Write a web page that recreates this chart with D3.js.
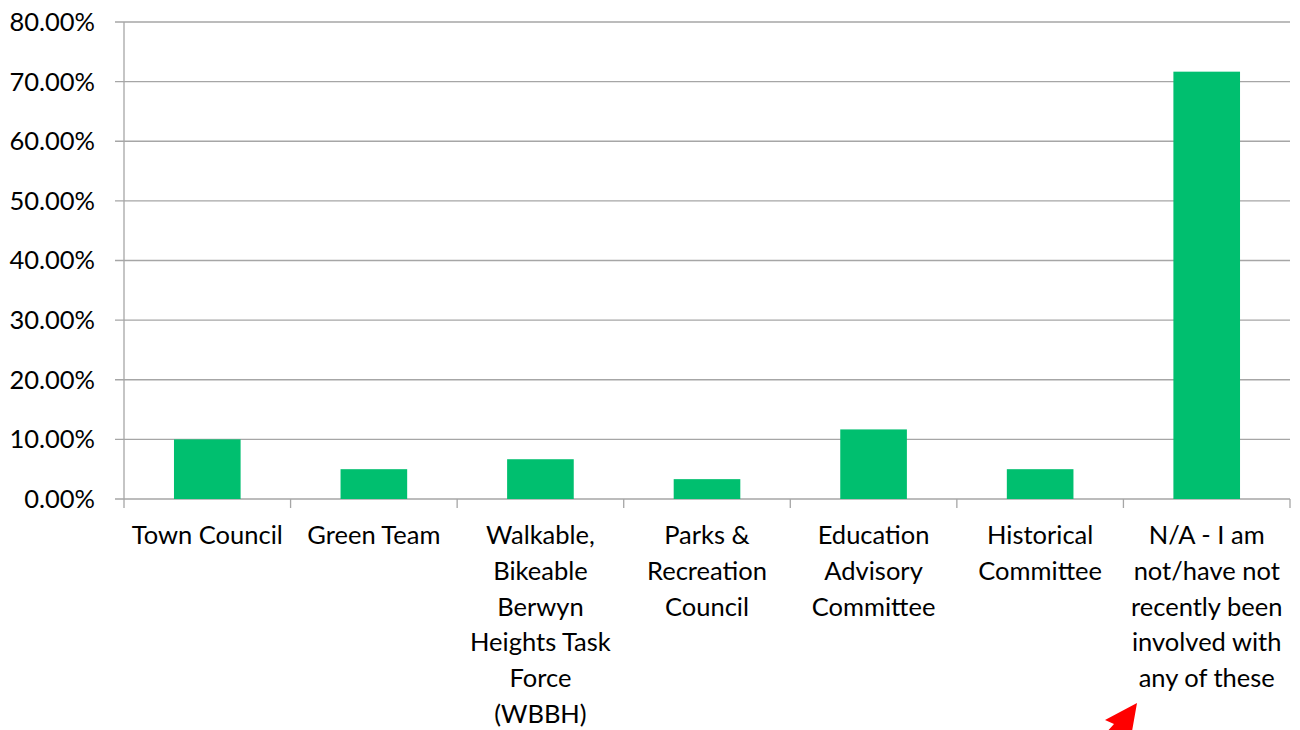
<!DOCTYPE html>
<html><head><meta charset="utf-8">
<script src="https://cdn.jsdelivr.net/npm/d3@7"></script>
<style>body{margin:0;background:#fff}svg{display:block}text{font-family:Lato,"Open Sans",sans-serif}</style>
</head><body><svg id="c" width="1300" height="730"></svg>
<script>
const categories = ["Town Council","Green Team","Walkable, Bikeable Berwyn Heights Task Force (WBBH)","Parks & Recreation Council","Education Advisory Committee","Historical Committee","N/A - I am not/have not recently been involved with any of these"];
const labelLines = [["Town Council"],["Green Team"],["Walkable,","Bikeable","Berwyn","Heights Task","Force","(WBBH)"],["Parks &","Recreation","Council"],["Education","Advisory","Committee"],["Historical","Committee"],["N/A - I am","not/have not","recently been","involved with","any of these"]];
const values = [0.1000,0.0500,0.0667,0.0333,0.1167,0.0500,0.7167];
const yTicks = [0,0.1,0.2,0.3,0.4,0.5,0.6,0.7,0.8];

const svg = d3.select("#c");
const L=124,R=1290,T=22,B=499;
const x = d3.scaleBand().domain(categories).range([L,R]).paddingInner(0.6).paddingOuter(0.3);
const xb = d3.scaleBand().domain(categories).range([L,R]);
const y = d3.scaleLinear().domain([0,0.8]).range([B,T]);
const fmt = d3.format(".2%");
const FS = 25.5;

svg.append("g").selectAll("line").data(yTicks).join("line")
  .attr("x1",L-9).attr("x2",R).attr("y1",d=>y(d)).attr("y2",d=>y(d))
  .attr("stroke","#a6a6a6").attr("stroke-width",1.3);
svg.append("g").selectAll("text").data(yTicks).join("text")
  .attr("x",95).attr("y",d=>y(d)).attr("dy","0.35em").attr("text-anchor","end")
  .attr("font-size",FS).attr("fill","#000").text(d=>fmt(d));
svg.append("line").attr("x1",L).attr("x2",L).attr("y1",T).attr("y2",B).attr("stroke","#a6a6a6").attr("stroke-width",1.3);
const tickX = categories.map(c=>xb(c)).concat([R]);
svg.append("g").selectAll("line").data(tickX).join("line")
  .attr("x1",d=>d).attr("x2",d=>d).attr("y1",B).attr("y2",B+9).attr("stroke","#a6a6a6").attr("stroke-width",1.3);
svg.append("g").selectAll("rect").data(values).join("rect")
  .attr("x",(d,i)=>x(categories[i])).attr("width",x.bandwidth())
  .attr("y",d=>y(d)).attr("height",d=>B-y(d)).attr("fill","#00bf6f");
const lg = svg.append("g");
categories.forEach((c,i)=>{
  const cx = xb(c)+xb.bandwidth()/2;
  const t = lg.append("text").attr("text-anchor","middle").attr("font-size",FS).attr("fill","#000");
  labelLines[i].forEach((ln,j)=>{
    t.append("tspan").attr("x",cx).attr("y",544+j*35.8).text(ln);
  });
});
svg.append("path").attr("d","M1137,703 L1105,720 L1114,724 L1095,745 L1110,752 L1126,731 L1131,737 Z").attr("fill","#ff0000");
</script></body></html>
